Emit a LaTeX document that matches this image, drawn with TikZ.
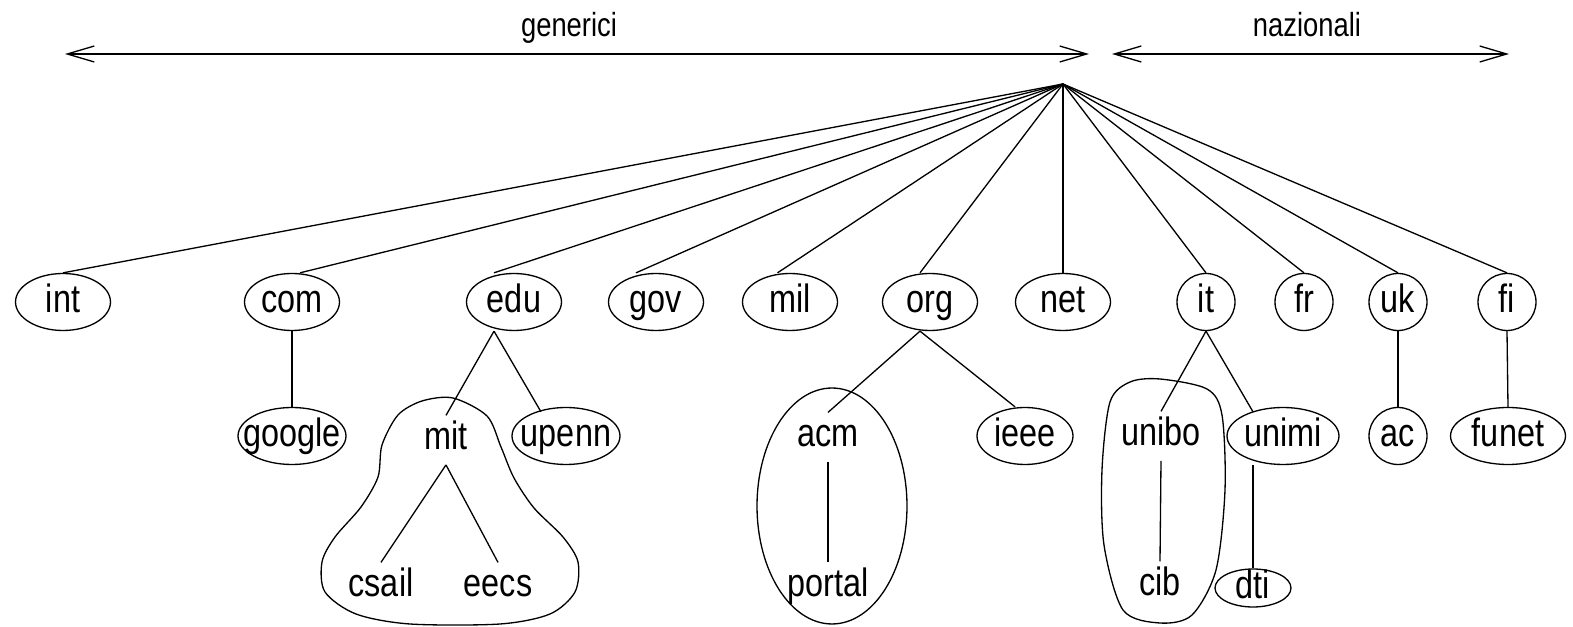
\documentclass[tikz,border=0pt]{standalone}
\usepackage{fontspec}
\setmainfont{Liberation Sans}
\newfontfamily\labfont[FakeStretch=0.82]{Liberation Sans}
\newcommand\domfont{\labfont\fontsize{22.5}{25}\selectfont}
\newcommand\spanfont{\labfont\fontsize{19}{21}\selectfont}
\usetikzlibrary{shapes.geometric, arrows.meta, positioning}
\tikzset{
  dom/.style={ellipse, draw, line width=0.75pt, inner sep=0pt, minimum height=1.14cm, text height=12pt, text depth=0pt, font=\domfont, execute at begin node={\hbox to 0pt\bgroup\hss}, execute at end node={\hss\egroup}},
  gtld/.style={dom, minimum width=1.9cm},
  cctld/.style={dom, minimum width=1.16cm},
  txt/.style={inner sep=4pt, anchor=base, text height=15.5pt, text depth=4.3pt, font=\domfont},
  link/.style={line width=0.75pt},
  arrow/.style={line width=0.75pt, <->, >={Straight Barb[length=0.54cm, width=0.32cm]}}
}

\begin{document}
\begin{tikzpicture}[x=0.02cm, y=-0.02cm]
    \path[fill=white] (0,0) rectangle (1573,623);

    % generici / nazionali
    \coordinate (genl) at (65,54);
    \coordinate (genr) at (1089,54);
    \coordinate (nazl) at (1112,54);
    \coordinate (nazr) at (1509,54);
    \node (gen) [anchor=base, inner sep=0pt, font=\spanfont] at (569,37) {generici};
    \node (naz) [anchor=base, inner sep=0pt, font=\spanfont] at (1307,37) {nazionali};
    \draw [arrow] (genl) -- (genr);
    \draw [arrow] (nazl) -- (nazr);

    \coordinate (root) at (1063,84);

    % primo livello
    \node (int) [gtld] at (63,302) {int};
    \node (com) [gtld] at (292,302) {com};
    \node (edu) [gtld] at (514,302) {edu};
    \node (gov) [gtld] at (656,302) {gov};
    \node (mil) [gtld] at (790,302) {mil};
    \node (org) [gtld] at (930,302) {org};
    \node (net) [gtld] at (1063,302) {net};
    \node (it) [cctld] at (1206,302) {it};
    \node (fr) [cctld] at (1304,302) {fr};
    \node (uk) [cctld] at (1398,302) {uk};
    \node (fi) [cctld] at (1507,302) {fi};

    % secondo livello
    \node (google) [dom, minimum width=2.16cm] at (292,436) {google};
    \node (mit) [txt] at (446,450) {mit};
    \node (upenn) [dom, minimum width=2.16cm] at (566,436) {upenn};
    \node (acm) [txt] at (828,447) {acm};
    \node (ieee) [dom, minimum width=1.92cm] at (1025,436) {ieee};
    \node (unibo) [txt] at (1161,446) {unibo};
    \node (unimi) [dom, minimum width=2.24cm] at (1283,436) {unimi};
    \node (ac) [cctld] at (1398,436) {ac};
    \node (funet) [dom, minimum width=2.3cm] at (1508,436) {funet};

    % terzo livello
    \node (csail) [txt] at (381,597) {csail};
    \node (eecs) [txt] at (498,597) {eecs};
    \node (portal) [txt] at (828,597) {portal};
    \node (cib) [txt] at (1160,596) {cib};
    \node (dti) [dom, minimum width=1.52cm, minimum height=0.76cm] at (1253,588) {dti};

    % gruppi
    \draw [link] plot [smooth cycle] coordinates {(453,398) (487,416) (501,447) (514,478) (534,508) (563,537) (578,562) (575,592) (550,614) (500,624) (410,624) (356,614) (325,592) (322,562) (335,537) (361,507) (378,477) (382,445) (398,415) (422,401)};
    \draw [link] (832,506) ellipse [x radius=1.5cm, y radius=2.36cm];
    \draw [link] plot [smooth cycle] coordinates {(1160,379) (1207,389) (1222,415) (1225,490) (1216,570) (1192,615) (1160,623) (1123,610) (1104,545) (1102,470) (1110,402) (1130,382)};

    \draw [link] (root) -- (int.north);
    \draw [link] (root) -- ([xshift=0.16cm]com.north);
    \draw [link] (root) -- ([xshift=-0.4cm]edu.north);
    \draw [link] (root) -- ([xshift=-0.4cm]gov.north);
    \draw [link] (root) -- ([xshift=-0.25cm]mil.north);
    \draw [link] (root) -- ([xshift=-0.2cm]org.north);
    \draw [link] (root) -- (net.north);
    \draw [link] (root) -- (it.north);
    \draw [link] (root) -- (fr.north);
    \draw [link] (root) -- (uk.north);
    \draw [link] (root) -- (fi.north);

    \draw [link] (com.south) -- (google.north);
    \draw [link] ([xshift=-0.4cm]edu.south) -- (mit.north);
    \draw [link] ([xshift=-0.4cm]edu.south) -- ([xshift=-0.5cm, yshift=-0.1cm]upenn.north);
    \draw [link] ([xshift=-0.2cm]org.south) -- (acm.north);
    \draw [link] ([xshift=-0.2cm]org.south) -- ([xshift=-0.2cm]ieee.north);
    \draw [link] (it.south) -- (unibo.north);
    \draw [link] (it.south) -- ([xshift=-0.6cm, yshift=-0.1cm]unimi.north);
    \draw [link] (uk.south) -- (ac.north);
    \draw [link] (fi.south) -- (funet.north);
    \draw [link] (mit.south) -- (csail.north);
    \draw [link] (mit.south) -- (eecs.north);
    \draw [link] (acm.south) -- (portal.north);
    \draw [link] (unibo.south) -- (cib.north);
    \draw [link] (dti.north |- unimi.south) -- (dti.north);
\end{tikzpicture}
\end{document}
